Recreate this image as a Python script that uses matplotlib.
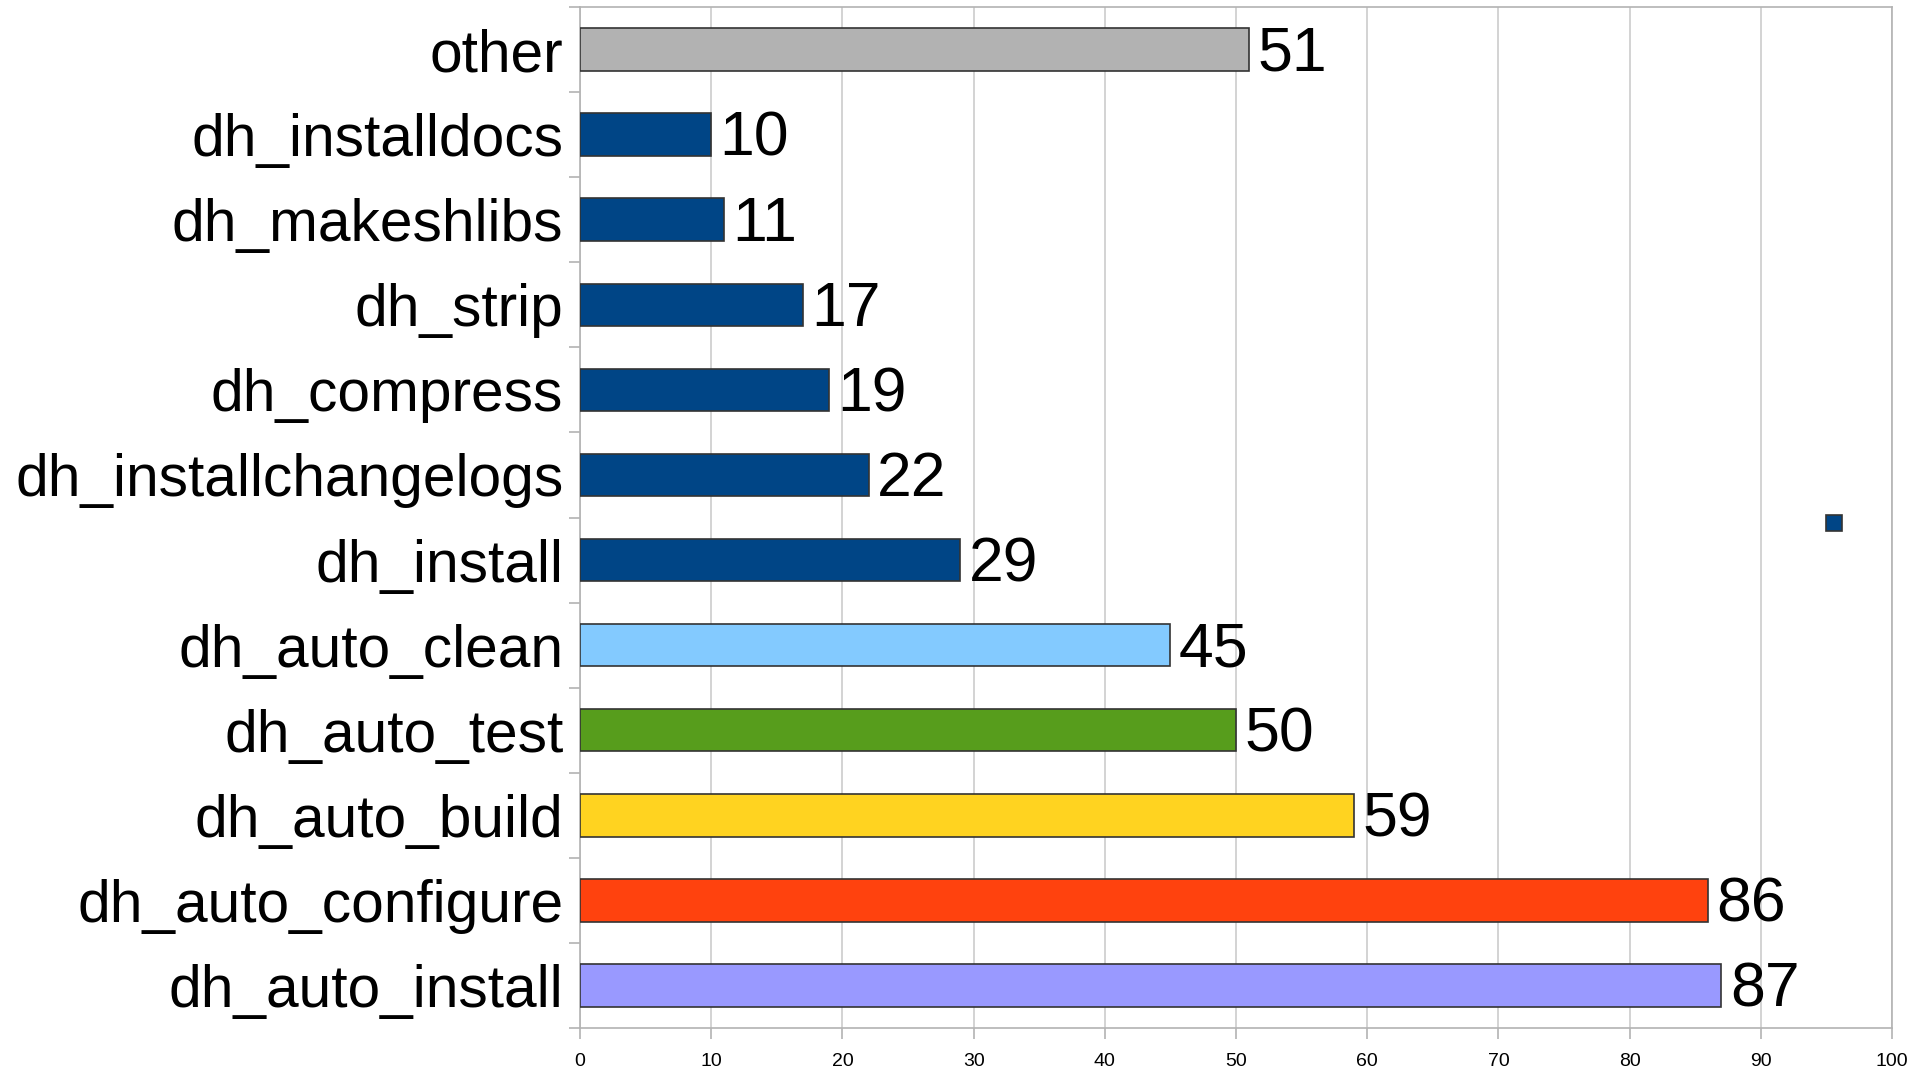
import matplotlib
matplotlib.use("Agg")
import matplotlib.pyplot as plt
from matplotlib.patches import Patch

# datos (de abajo hacia arriba)
categorias = ["dh_auto_install", "dh_auto_configure", "dh_auto_build", "dh_auto_test",
              "dh_auto_clean", "dh_install", "dh_installchangelogs", "dh_compress",
              "dh_strip", "dh_makeshlibs", "dh_installdocs", "other"]
valores = [87, 86, 59, 50, 45, 29, 22, 19, 17, 11, 10, 51]
colores = ["#9999ff", "#ff420e", "#ffd320", "#579d1c", "#83caff", "#004586",
           "#004586", "#004586", "#004586", "#004586", "#004586", "#b2b2b2"]
x_ticks = [0, 10, 20, 30, 40, 50, 60, 70, 80, 90, 100]

plt.rcParams['font.family'] = ['Liberation Sans', 'DejaVu Sans']

fig = plt.figure(figsize=(19.15, 10.70), dpi=100)
ax = fig.add_axes([580 / 1915, 1 - 1028 / 1070, (1892 - 580) / 1915, (1028 - 7) / 1070])

pos = list(range(len(categorias)))
barras = ax.barh(pos, valores, height=0.5, color=colores, edgecolor="#333333", linewidth=1.2, zorder=3)

# etiquetas de valor
for p, v in zip(pos, valores):
    ax.annotate(str(v), (v, p), xytext=(6, -3.5), textcoords="offset points",
                va="center", ha="left", fontsize=45, color="black", zorder=4)

ax.set_xlim(0, 100)
ax.set_ylim(-0.5, len(categorias) - 0.5)
ax.set_xticks(x_ticks)
ax.set_xticklabels([str(t) for t in x_ticks], fontsize=14)

# nombres en los centros, marcas entre categorias
ax.set_yticks(pos)
ax.set_yticklabels(categorias, fontsize=42.2)
ax.set_yticks([p - 0.5 for p in pos] + [len(pos) - 0.5], minor=True)
ax.tick_params(axis="y", which="major", length=0, pad=12)
ax.tick_params(axis="y", which="minor", length=8, color="#b3b3b3", width=1.2)
ax.tick_params(axis="x", length=8, color="#b3b3b3", width=1.2, pad=10)

ax.grid(axis="x", color="#cccccc", linewidth=1.2, zorder=0)
for s in ax.spines.values():
    s.set_color("#b3b3b3")
    s.set_linewidth(1.2)

# leyenda sin texto (solo el cuadrado)
fig.legend(handles=[Patch(facecolor="#004586", edgecolor="#333333", linewidth=1.2)], labels=[""],
           loc="center", bbox_to_anchor=(1834 / 1915, 1 - 525 / 1070), frameon=False,
           fontsize=15, handlelength=0.8, handleheight=0.8, handletextpad=0, borderpad=0,
           borderaxespad=0)

plt.savefig("out.png", dpi=100)
